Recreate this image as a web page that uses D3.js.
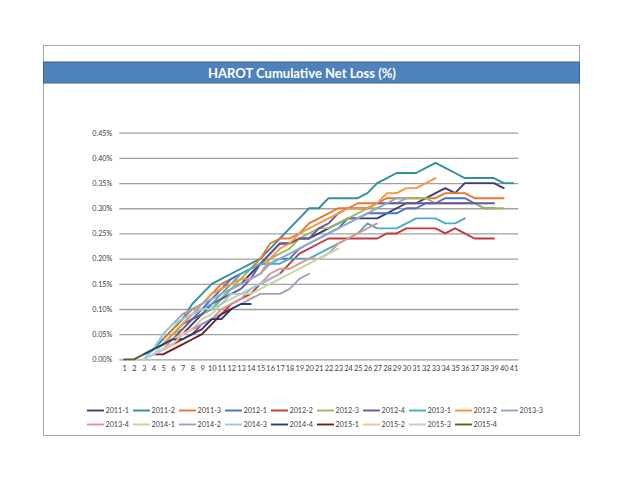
<!DOCTYPE html>
<html><head><meta charset="utf-8">
<script src="https://cdn.jsdelivr.net/npm/d3@7"></script>
<style>
html,body{margin:0;padding:0;background:#fff;}
svg{display:block;font-family:Lato,"Open Sans",sans-serif;}
</style></head>
<body><svg id="chart" width="624" height="482"></svg>
<script>
const chartTitle = "HAROT Cumulative Net Loss (%)";
const months = d3.range(1, 42);
const yTicks = [0, 0.05, 0.10, 0.15, 0.20, 0.25, 0.30, 0.35, 0.40, 0.45];

// Each series: first month with data, then values (%) month by month
const seriesNames = ["2011-1","2011-2","2011-3","2012-1","2012-2","2012-3","2012-4","2013-1","2013-2","2013-3",
                     "2013-4","2014-1","2014-2","2014-3","2014-4","2015-1","2015-2","2015-3","2015-4"];
const seriesColors = ["#3D3A7C","#2F8F9D","#E8782A","#4A72C0","#C23A3A","#9BBB59","#6B559E","#4BACC6","#F7963E","#8EA9D1",
                      "#D99694","#C3D69B","#A99BC4","#93CDDD","#1F3E76","#6E1F1F","#FAC090","#B9CDE5","#4F6228"];
const seriesStart = [5,3,5,5,5,5,5,5,5,3, 4,4,4,3,3,4,3,3,1];

const s2011_1 = [0.03,0.04,0.05,0.07,0.09,0.10,0.12,0.14,0.15,0.17,0.19,0.21,0.23,0.23,0.24,0.24,0.25,0.26,0.27,0.28,0.28,0.28,0.28,0.29,0.30,0.31,0.31,0.32,0.33,0.34,0.33,0.35,0.35,0.35,0.35,0.34];
const s2011_2 = [0.01,0.02,0.04,0.06,0.08,0.11,0.13,0.15,0.16,0.17,0.18,0.19,0.20,0.22,0.24,0.26,0.28,0.30,0.30,0.32,0.32,0.32,0.32,0.33,0.35,0.36,0.37,0.37,0.37,0.38,0.39,0.38,0.37,0.36,0.36,0.36,0.36,0.35,0.35];
const s2011_3 = [0.04,0.06,0.08,0.10,0.11,0.13,0.15,0.16,0.17,0.18,0.20,0.23,0.24,0.24,0.25,0.27,0.28,0.29,0.30,0.30,0.31,0.31,0.31,0.32,0.32,0.32,0.32,0.32,0.32,0.33,0.33,0.33,0.32,0.32,0.32,0.32];
const s2012_1 = [0.03,0.05,0.07,0.08,0.10,0.12,0.14,0.16,0.17,0.18,0.19,0.19,0.20,0.20,0.22,0.23,0.24,0.25,0.26,0.28,0.28,0.29,0.29,0.29,0.29,0.30,0.30,0.31,0.31,0.32,0.32,0.32,0.31,0.30,0.30];
const s2012_2 = [0.02,0.03,0.04,0.05,0.07,0.08,0.09,0.11,0.12,0.13,0.15,0.16,0.17,0.19,0.21,0.22,0.23,0.24,0.24,0.24,0.24,0.24,0.24,0.25,0.25,0.26,0.26,0.26,0.26,0.25,0.26,0.25,0.24,0.24,0.24];
const s2012_3 = [0.03,0.05,0.06,0.08,0.09,0.10,0.12,0.14,0.16,0.18,0.19,0.20,0.21,0.22,0.24,0.25,0.26,0.26,0.27,0.28,0.29,0.30,0.30,0.31,0.31,0.32,0.32,0.32,0.31,0.31,0.31,0.31,0.31,0.30,0.30,0.30];
const s2012_4 = [0.03,0.04,0.06,0.08,0.09,0.11,0.12,0.13,0.14,0.16,0.19,0.21,0.23,0.23,0.24,0.24,0.26,0.27,0.29,0.30,0.30,0.30,0.31,0.31,0.31,0.31,0.31,0.31,0.31,0.31,0.31,0.31,0.31,0.31,0.31];
const s2013_1 = [0.03,0.05,0.07,0.09,0.10,0.11,0.13,0.15,0.17,0.18,0.19,0.19,0.19,0.20,0.20,0.20,0.21,0.22,0.23,0.24,0.25,0.27,0.26,0.26,0.26,0.27,0.28,0.28,0.28,0.27,0.27,0.28];
const s2013_2 = [0.03,0.05,0.07,0.09,0.11,0.13,0.14,0.15,0.16,0.16,0.17,0.20,0.22,0.23,0.25,0.26,0.27,0.28,0.29,0.30,0.30,0.30,0.31,0.33,0.33,0.34,0.34,0.35,0.36];
const s2013_3 = [0.00,0.02,0.05,0.07,0.09,0.10,0.11,0.12,0.13,0.14,0.15,0.16,0.17,0.19,0.20,0.21,0.22,0.23,0.24,0.25,0.26,0.27,0.28,0.29,0.30,0.31,0.32,0.32];
const s2013_4 = [0.01,0.02,0.04,0.05,0.06,0.07,0.08,0.10,0.11,0.12,0.14,0.15,0.17,0.18,0.18,0.19,0.20,0.20,0.21,0.23,0.24,0.25,0.26,0.27];
const s2014_1 = [0.01,0.03,0.04,0.05,0.06,0.08,0.09,0.11,0.12,0.13,0.13,0.14,0.15,0.16,0.17,0.18,0.19,0.20,0.21,0.22];
const s2014_2 = [0.01,0.02,0.03,0.05,0.06,0.07,0.08,0.09,0.10,0.11,0.12,0.13,0.13,0.13,0.14,0.16,0.17];
const s2014_3 = [0.00,0.02,0.05,0.07,0.08,0.09,0.10,0.10,0.11,0.13,0.13,0.14,0.15,0.16,0.17];
const s2014_4 = [0.01,0.02,0.03,0.04,0.04,0.05,0.06,0.08,0.08,0.10,0.11,0.11];
const s2015_1 = [0.01,0.01,0.02,0.03,0.04,0.05,0.07,0.09,0.10];
const s2015_2 = [0.00,0.01,0.02,0.03,0.05,0.06];
const s2015_3 = [0.00,0.01,0.02];
const s2015_4 = [0.00,0.00,0.01];

const seriesValues = [s2011_1,s2011_2,s2011_3,s2012_1,s2012_2,s2012_3,s2012_4,s2013_1,s2013_2,s2013_3,
                      s2013_4,s2014_1,s2014_2,s2014_3,s2014_4,s2015_1,s2015_2,s2015_3,s2015_4];

const series = seriesNames.map((name, i) => ({
  name, color: seriesColors[i],
  points: seriesValues[i].map((v, j) => ({m: seriesStart[i] + j, v}))
}));

const svg = d3.select("#chart");
const textColor = "#404040";

// frame
svg.append("rect").attr("x", 43.5).attr("y", 45.5).attr("width", 536).attr("height", 390)
  .attr("fill", "#fff").attr("stroke", "#A6A6A6").attr("stroke-width", 1);
// title band
svg.append("rect").attr("x", 43.5).attr("y", 62).attr("width", 536).attr("height", 21)
  .attr("fill", "#4F81BD").attr("stroke", "#3A6190").attr("stroke-width", 1);
svg.append("text").attr("x", 302).attr("y", 77.5).attr("text-anchor", "middle")
  .attr("fill", "#fff").attr("font-weight", "bold").attr("font-size", 13).text(chartTitle);

const x = d3.scalePoint().domain(months).range([119.3, 518.3]).padding(0.5);
const y = d3.scaleLinear().domain([0, 0.45]).range([359.4, 132.7]);

// gridlines + y labels
const yAxis = d3.axisLeft(y).tickValues(yTicks).tickSize(-(518.3 - 119.3)).tickPadding(7)
  .tickFormat(d => d.toFixed(2) + "%");
const gy = svg.append("g").attr("transform", "translate(119.3,0)").call(yAxis);
gy.select(".domain").remove();
gy.selectAll(".tick line").attr("stroke", "#A0A0A0").attr("stroke-width", 1.3);
gy.selectAll(".tick text").attr("fill", textColor).attr("font-size", 7.2).attr("font-family", "Lato, sans-serif");

// x labels
const xAxis = d3.axisBottom(x).tickSize(0).tickPadding(6);
const gx = svg.append("g").attr("transform", "translate(0,359.4)").call(xAxis);
gx.select(".domain").remove();
gx.selectAll(".tick text").attr("fill", textColor).attr("font-size", 7.4).attr("font-family", "Lato, sans-serif");

// lines
const line = d3.line().x(d => x(d.m)).y(d => y(d.v));
svg.append("g").selectAll("path").data(series).join("path")
  .attr("d", d => line(d.points)).attr("fill", "none")
  .attr("stroke", d => d.color).attr("stroke-width", 1.9)
  .attr("stroke-linejoin", "round").attr("stroke-linecap", "round");

// legend
const leg = svg.append("g");
series.forEach((s, i) => {
  const row = i < 10 ? 0 : 1;
  const col = i < 10 ? i : i - 10;
  const lx = 87 + col * 46, ly = row === 0 ? 410.5 : 424.5;
  leg.append("line").attr("x1", lx).attr("x2", lx + 17).attr("y1", ly).attr("y2", ly)
    .attr("stroke", s.color).attr("stroke-width", 1.9);
  leg.append("text").attr("x", lx + 18.5).attr("y", ly + 2.6).attr("font-size", 7.2)
    .attr("fill", textColor).text(s.name);
});
</script></body></html>
